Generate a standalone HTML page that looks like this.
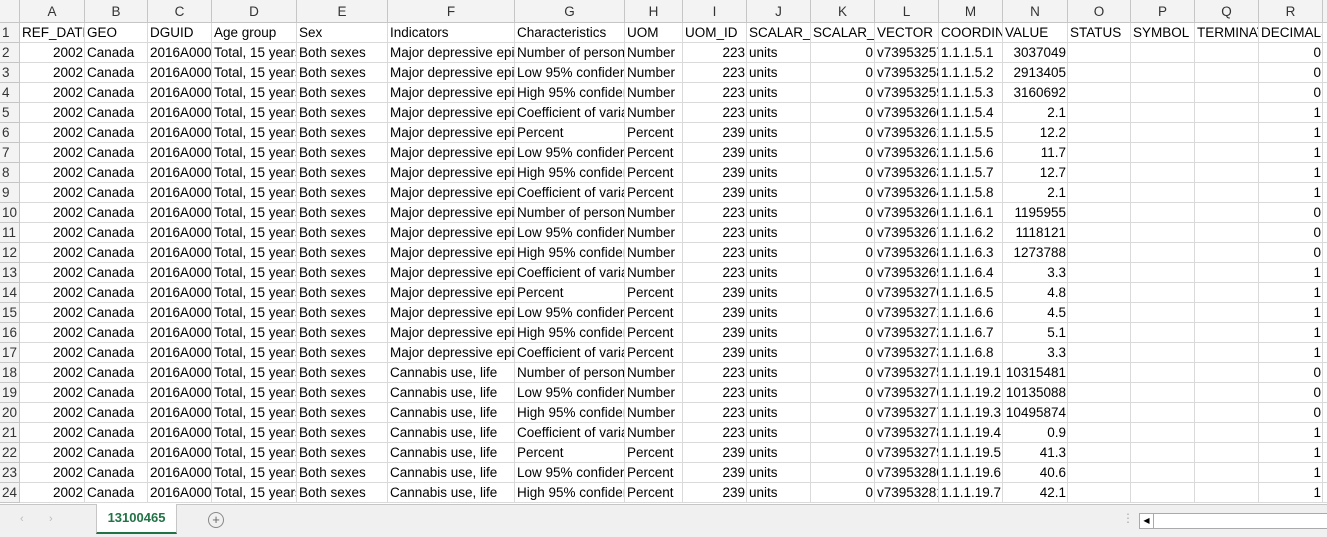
<!DOCTYPE html>
<html><head><meta charset="utf-8">
<style>
body{margin:0;width:1327px;height:536px;overflow:hidden;background:#fff;font-family:"Liberation Sans",sans-serif;position:relative}
.c{position:absolute;box-sizing:border-box;border-right:1px solid #dadada;border-bottom:1px solid #dadada;height:20px;line-height:19px;font-size:13.5px;color:#000;overflow:hidden;white-space:nowrap;padding:0 2px}
.h{background:#f3f3f3;color:#333;text-align:center;border-color:#c6c6c6}
.r{text-align:right;padding-right:1px}
#bar{position:absolute;left:0;top:504px;width:1327px;height:32px;background:#f0f0f0;border-top:1px solid #c6c6c6}
</style></head><body>
<div id="grid"></div>
<div id="bar">
<span style="position:absolute;left:20px;top:8px;color:#bbb;font-size:11px">&#8249;</span>
<span style="position:absolute;left:49px;top:8px;color:#bbb;font-size:11px">&#8250;</span>
<div style="position:absolute;left:96px;top:-1px;width:79px;height:28px;background:#fff;border-bottom:2px solid #217346;border-left:1px solid #c6c6c6;border-right:1px solid #c6c6c6;color:#217346;font-weight:bold;font-size:13px;text-align:center;line-height:28px">13100465</div>
<div style="position:absolute;left:208px;top:7px;width:14px;height:14px;border:1px solid #888;border-radius:50%;color:#666;font-size:13px;line-height:14px;text-align:center">+</div>
<span style="position:absolute;left:1122px;top:6px;color:#aaa;font-size:12px">&#8942;</span>
<div style="position:absolute;left:1139px;top:8px;width:190px;height:14px;background:#fff;border:1px solid #aaa"><div style="width:13px;height:14px;border-right:1px solid #aaa;font-size:8px;line-height:14px;text-align:center">&#9664;</div></div>
</div>
<script>
const xs=[0,20,85,148,212,297,388,515,625,683,747,811,875,939,1003,1068,1131,1195,1259,1323,1327];
const letters=["","A","B","C","D","E","F","G","H","I","J","K","L","M","N","O","P","Q","R",""];
const heads=["REF_DATE","GEO","DGUID","Age group","Sex","Indicators","Characteristics","UOM","UOM_ID","SCALAR_FACTOR","SCALAR_ID","VECTOR","COORDINATE","VALUE","STATUS","SYMBOL","TERMINATED","DECIMALS"];
const ind=["Major depressive episode, life","Cannabis use, life"];
const chars=["Number of persons","Low 95% confidence interval","High 95% confidence interval","Coefficient of variation","Percent","Low 95% confidence interval","High 95% confidence interval","Coefficient of variation"];
const values=["3037049","2913405","3160692","2.1","12.2","11.7","12.7","2.1","1195955","1118121","1273788","3.3","4.8","4.5","5.1","3.3","10315481","10135088","10495874","0.9","41.3","40.6","42.1"];
const vecs=[57,58,59,60,61,62,63,64,66,67,68,69,70,71,72,73,75,76,77,78,79,80,81];
const g=document.getElementById('grid');
function cell(x,y,w,t,cls){const d=document.createElement('div');d.className='c '+(cls||'');d.style.left=x+'px';d.style.top=y+'px';d.style.width=w+'px';d.style.height=(y===0?23:20)+'px';d.textContent=t;


g.appendChild(d);return d;}
for(let i=0;i<20;i++){const d=cell(xs[i],0,xs[i+1]-xs[i],letters[i],'h');d.style.lineHeight='23px';}
for(let r=1;r<=24;r++){
 const y=23+20*(r-1);
 const rh=cell(0,y,20,String(r),'h');rh.style.textAlign='left';
 let row;
 if(r===1) row=heads.map(t=>[t,'']);
 else{const k=r-2;const grp=k<8?0:(k<16?1:2);const j=k%8;const pct=j>=4;
  const coord=grp===0?'1.1.1.5.':(grp===1?'1.1.1.6.':'1.1.1.19.');
  row=[["2002","r"],["Canada",""],["2016A000011124",""],["Total, 15 years and over",""],["Both sexes",""],[ind[grp===2?1:0],""],[chars[j],""],[pct?"Percent":"Number",""],[pct?"239":"223","r"],["units",""],["0","r"],["v739532"+vecs[k],""],[coord+(j+1),""],[values[k],"r"],["",""],["",""],["",""],[(values[k].includes('.')?"1":"0"),"r"]];}
 for(let c=0;c<18;c++) cell(xs[c+1],y,xs[c+2]-xs[c+1],row[c][0],row[c][1]);
 cell(1323,y,4,'','');
}
</script>
</body></html>
